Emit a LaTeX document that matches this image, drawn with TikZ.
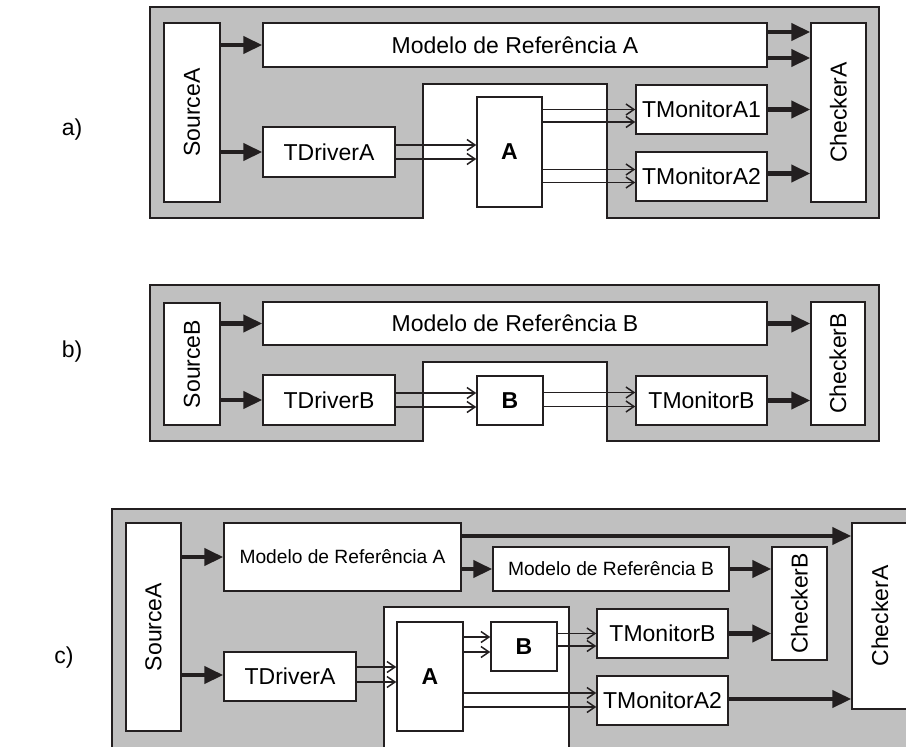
\documentclass[tikz,border=0pt]{standalone}
\usepackage{fontspec}
\setmainfont{Liberation Sans}
\usetikzlibrary{arrows.meta,calc}

\definecolor{panel}{HTML}{C0C0C0}
\definecolor{ink}{HTML}{231F20}

\begin{document}
\begin{tikzpicture}[x=1pt,y=-1pt,font=\fontsize{23}{27}\selectfont,
  bx/.style={draw=ink,fill=white,line width=1.5pt,inner sep=0pt},
  pnl/.style={draw=ink,fill=panel,line width=1.5pt},
  big/.style={-{Triangle[length=19pt,width=17pt]},line width=4.5pt,draw=ink},
  sig/.style={-{Straight Barb[length=8pt,width=11pt]},line width=1.5pt,draw=ink},
  small/.style={font=\fontsize{19.2}{23}\selectfont}]
  \useasboundingbox (0,0) rectangle (906,747);
  \clip (0,0) rectangle (906,747);

  % a)
  \node (la) at (72,130) {a)};
  \draw[pnl] (150,7) -- (879,7) -- (879,218) -- (607,218) -- (607,84) -- (423,84) -- (423,218) -- (150,218) -- cycle;
  \node[bx,minimum width=56pt,minimum height=179pt](srcA) at (192,112.5){\rotatebox{90}{SourceA}};
  \node[bx,minimum width=504pt,minimum height=44pt](mdlA) at (515,45){Modelo de Referência A};
  \node[bx,minimum width=132pt,minimum height=50pt](drvA) at (329,152){TDriverA};
  \node[bx,minimum width=65pt,minimum height=110pt](dutA) at (509.5,152){\textbf{A}};
  \node[bx,minimum width=131pt,minimum height=49pt](monA1) at (701.5,109.5){TMonitorA1};
  \node[bx,minimum width=131pt,minimum height=49pt](monA2) at (701.5,176.5){TMonitorA2};
  \node[bx,minimum width=55pt,minimum height=179pt](chkA) at (838.5,112.5){\rotatebox{90}{CheckerA}};
  \draw[big](srcA.east |- mdlA)--(mdlA);
  \draw[big](srcA.east |- drvA)--(drvA);
  \draw[big]($(mdlA.east)+(0,-13)$)--($(chkA.west |- mdlA.east)+(0,-13)$);
  \draw[big]($(mdlA.east)+(0,13)$)--($(chkA.west |- mdlA.east)+(0,13)$);
  \draw[sig]($(drvA.east)+(0,-7)$)--($(dutA.west |- drvA.east)+(0,-7)$);
  \draw[sig]($(drvA.east)+(0,7)$)--($(dutA.west |- drvA.east)+(0,7)$);
  \draw[sig](dutA.east |- monA1.west)--(monA1.west);
  \draw[sig]($(dutA.east |- monA1.west)+(0,12.5)$)--($(monA1.west)+(0,12.5)$);
  \draw[sig]($(dutA.east |- monA2.west)+(0,-7)$)--($(monA2.west)+(0,-7)$);
  \draw[sig]($(dutA.east |- monA2.west)+(0,6)$)--($(monA2.west)+(0,6)$);
  \draw[big](monA1)--(chkA.west |- monA1);
  \draw[big]($(monA2.east)+(0,-3)$)--($(chkA.west |- monA2.east)+(0,-3)$);

  % b)
  \node (lb) at (72,352) {b)};
  \draw[pnl] (150,285) -- (879,285) -- (879,441) -- (607,441) -- (607,362) -- (423,362) -- (423,441) -- (150,441) -- cycle;
  \node[bx,minimum width=56pt,minimum height=122pt](srcB) at (192,364){\rotatebox{90}{SourceB}};
  \node[bx,minimum width=504pt,minimum height=43pt](mdlB) at (515,323.5){Modelo de Referência B};
  \node[bx,minimum width=132pt,minimum height=50pt](drvB) at (329,400){TDriverB};
  \node[bx,minimum width=66pt,minimum height=49pt](dutB) at (510,400.5){\textbf{B}};
  \node[bx,minimum width=131pt,minimum height=49pt](monB) at (701.5,400.5){TMonitorB};
  \node[bx,minimum width=54pt,minimum height=123pt](chkB) at (838,363.5){\rotatebox{90}{CheckerB}};
  \draw[big](srcB.east |- mdlB)--(mdlB);
  \draw[big](srcB.east |- drvB)--(drvB);
  \draw[sig]($(drvB.east)+(0,-7)$)--($(dutB.west |- drvB.east)+(0,-7)$);
  \draw[sig]($(drvB.east)+(0,7)$)--($(dutB.west |- drvB.east)+(0,7)$);
  \draw[sig]($(dutB.east)+(0,-8)$)--($(monB.west |- dutB.east)+(0,-8)$);
  \draw[sig]($(dutB.east)+(0,6)$)--($(monB.west |- dutB.east)+(0,6)$);
  \draw[big](mdlB)--(chkB.west |- mdlB);
  \draw[big](monB)--(chkB.west |- monB);

  % c)
  \node (lc) at (64,658) {c)};
  \draw[pnl] (112,509) -- (930,509) -- (930,770) -- (569,770) -- (569,607) -- (384,607) -- (384,770) -- (112,770) -- cycle;
  \node[bx,minimum width=55pt,minimum height=208pt](srcC) at (153.5,627){\rotatebox{90}{SourceA}};
  \node[bx,small,minimum width=237pt,minimum height=68pt](mdlAc) at (342.5,557){Modelo de Referência A};
  \node[bx,small,minimum width=236pt,minimum height=44pt](mdlBc) at (611,569){Modelo de Referência B};
  \node[bx,minimum width=55pt,minimum height=113pt](chkBc) at (799.5,603.5){\rotatebox{90}{CheckerB}};
  \node[bx,minimum width=56pt,minimum height=186pt](chkAc) at (880,616){\rotatebox{90}{CheckerA}};
  \node[bx,minimum width=132pt,minimum height=49pt](drvC) at (290,676.5){TDriverA};
  \node[bx,minimum width=66pt,minimum height=109pt](dutAc) at (430,676.5){\textbf{A}};
  \node[bx,minimum width=66pt,minimum height=49pt](dutBc) at (524,646.5){\textbf{B}};
  \node[bx,minimum width=131pt,minimum height=49pt](monBc) at (662.5,633.5){TMonitorB};
  \node[bx,minimum width=131pt,minimum height=49pt](monA2c) at (662.5,700.5){TMonitorA2};
  \draw[big](srcC.east |- mdlAc)--(mdlAc);
  \draw[big]($(srcC.east |- drvC.west)+(0,-1.5)$)--($(drvC.west)+(0,-1.5)$);
  \draw[big](mdlAc.east |- mdlBc)--(mdlBc);
  \draw[big]($(mdlAc.east)+(0,-21)$)--($(chkAc.west |- mdlAc.east)+(0,-21)$);
  \draw[big](mdlBc)--(chkBc.west |- mdlBc);
  \draw[big](monBc)--(chkBc.west |- monBc);
  \draw[big]($(monA2c.east)+(0,-1.5)$)--($(chkAc.west |- monA2c.east)+(0,-1.5)$);
  \draw[sig]($(drvC.east)+(0,-9.5)$)--($(dutAc.west |- drvC.east)+(0,-9.5)$);
  \draw[sig]($(drvC.east)+(0,5.5)$)--($(dutAc.west |- drvC.east)+(0,5.5)$);
  \draw[sig]($(dutAc.east |- dutBc.west)+(0,-9.5)$)--($(dutBc.west)+(0,-9.5)$);
  \draw[sig]($(dutAc.east |- dutBc.west)+(0,5.5)$)--($(dutBc.west)+(0,5.5)$);
  \draw[sig](dutBc.east |- monBc.west)--(monBc.west);
  \draw[sig]($(dutBc.east |- monBc.west)+(0,12.5)$)--($(monBc.west)+(0,12.5)$);
  \draw[sig]($(dutAc.east |- monA2c.west)+(0,-7.5)$)--($(monA2c.west)+(0,-7.5)$);
  \draw[sig]($(dutAc.east |- monA2c.west)+(0,6.5)$)--($(monA2c.west)+(0,6.5)$);
\end{tikzpicture}
\end{document}
